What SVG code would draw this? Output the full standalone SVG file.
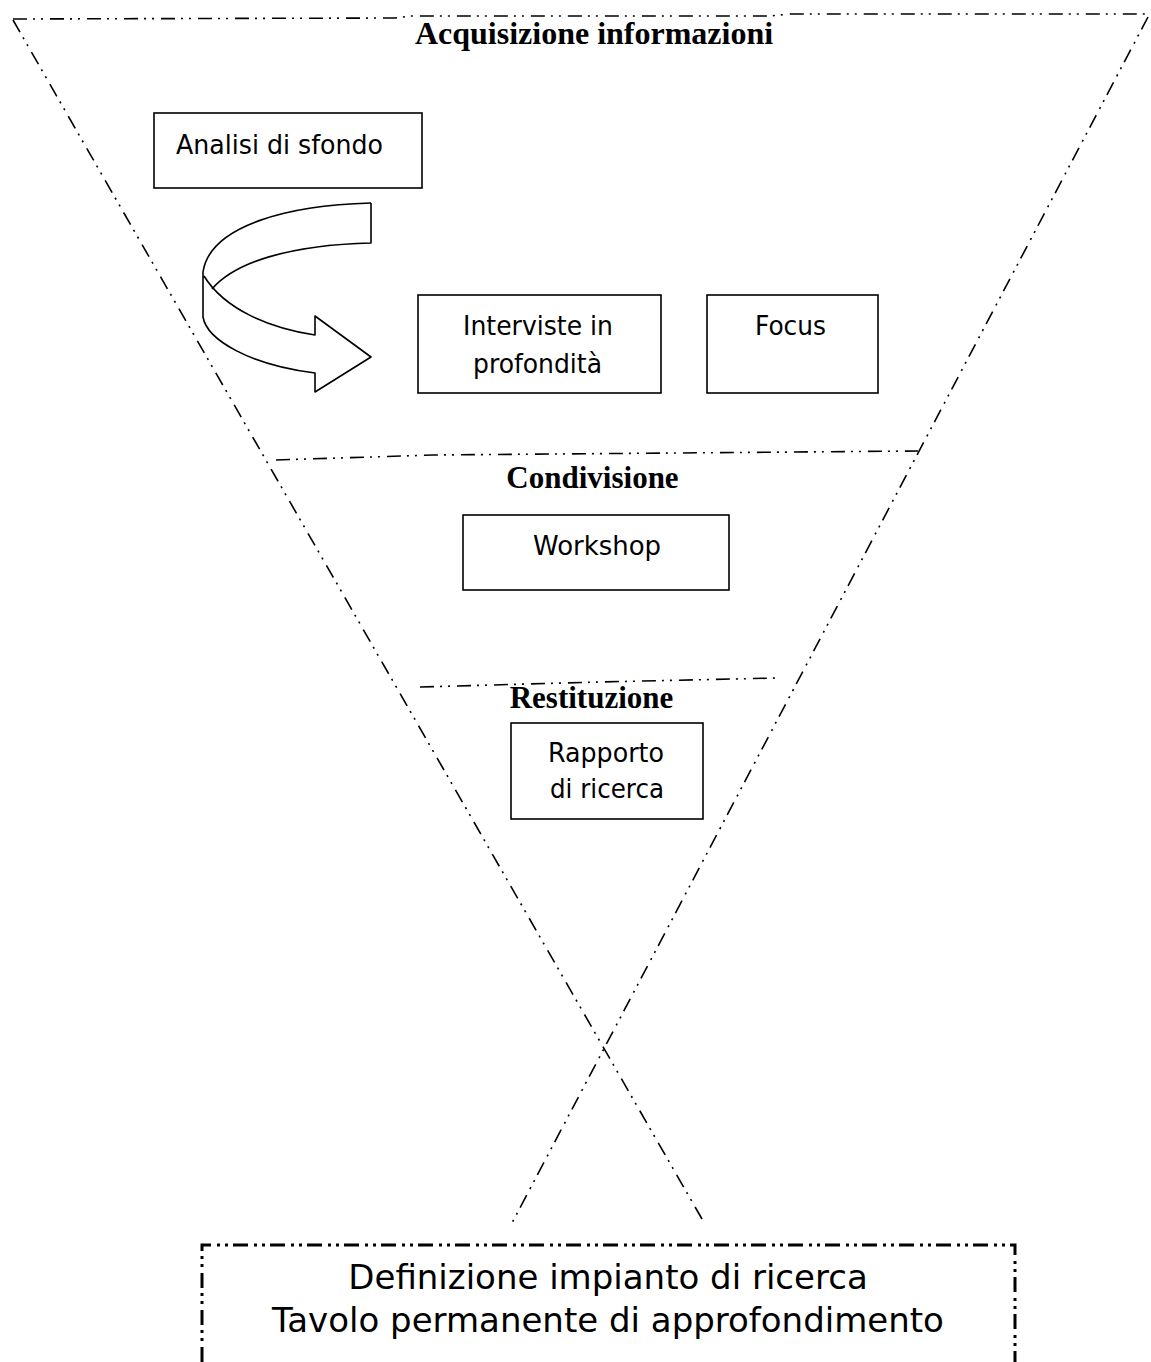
<svg xmlns="http://www.w3.org/2000/svg" width="1151" height="1362" viewBox="0 0 1151 1362">
<style>
.bg{fill:#ffffff}
.funnel{fill:none;stroke:#000;stroke-width:1.6;stroke-dasharray:14 6 2 6 2 7}
.outer{fill:none;stroke:#000;stroke-width:3;stroke-dasharray:15 6 3 5 3 5}
.box{fill:#fff;stroke:#000;stroke-width:1.6}
.arrow{fill:#fff;stroke:#000;stroke-width:1.6;stroke-linejoin:round}
.head{font-family:"Liberation Serif","Times New Roman",serif;font-weight:bold;font-size:31px;fill:#000;text-anchor:middle}
.lbl{font-family:"DejaVu Sans",Verdana,sans-serif;font-size:27px;fill:#000}
.big{font-family:"DejaVu Sans",Verdana,sans-serif;font-size:34px;fill:#000;text-anchor:middle}
</style>
<rect class="bg" x="0" y="0" width="1151" height="1362"/>
<g id="funnel">
  <polyline class="funnel" points="13,19 395,18 410,16 770,16 790,14 1149,14"/>
  <line class="funnel" x1="13" y1="20" x2="702" y2="1219"/>
  <line class="funnel" x1="1148" y1="17" x2="512" y2="1223"/>
  <polyline class="funnel" points="276,460 433,455 918,451"/>
  <polyline class="funnel" points="420,687 600,682 777,678"/>
</g>
<g id="phase-acquisizione"><text class="head" x="594" y="44" style="font-size:32px">Acquisizione informazioni</text></g>
<g id="phase-condivisione"><text class="head" x="592.5" y="488">Condivisione</text></g>
<g id="phase-restituzione"><text class="head" x="591.5" y="708">Restituzione</text></g>
<g id="node-analisi">
  <rect class="box" x="154" y="113" width="268" height="75"/>
  <text class="lbl" x="176" y="154" textLength="207" lengthAdjust="spacingAndGlyphs">Analisi di sfondo</text>
</g>
<g id="connectors">
  <path class="arrow" d="M371,203 C290,205 210,225 203,272 L203,317 C207,340 250,365 315,373 L315,392 L371,357 L315,316 L315,335 C270,328 225,310 204,276"/>
  <path class="arrow" style="fill:none" d="M212,289 C235,262 290,245 371,243 L371,203"/>
</g>
<g id="node-interviste">
  <rect class="box" x="418" y="295" width="243" height="98"/>
  <text class="lbl" x="463" y="335" textLength="150" lengthAdjust="spacingAndGlyphs">Interviste in</text>
  <text class="lbl" x="473" y="373" textLength="129" lengthAdjust="spacingAndGlyphs">profondità</text>
</g>
<g id="node-focus">
  <rect class="box" x="707" y="295" width="171" height="98"/>
  <text class="lbl" x="755" y="335" textLength="71" lengthAdjust="spacingAndGlyphs">Focus</text>
</g>
<g id="node-workshop">
  <rect class="box" x="463" y="515" width="266" height="75"/>
  <text class="lbl" x="533" y="555" textLength="128" lengthAdjust="spacingAndGlyphs">Workshop</text>
</g>
<g id="node-rapporto">
  <rect class="box" x="511" y="723" width="192" height="96"/>
  <text class="lbl" x="548" y="762" textLength="116" lengthAdjust="spacingAndGlyphs">Rapporto</text>
  <text class="lbl" x="550" y="798" textLength="114" lengthAdjust="spacingAndGlyphs">di ricerca</text>
</g>
<g id="node-definizione">
  <path class="outer" d="M202,1362 V1245 H1015 V1362"/>
  <text class="big" x="608" y="1289">Definizione impianto di ricerca</text>
  <text class="big" x="608" y="1332">Tavolo permanente di approfondimento</text>
</g>
</svg>
